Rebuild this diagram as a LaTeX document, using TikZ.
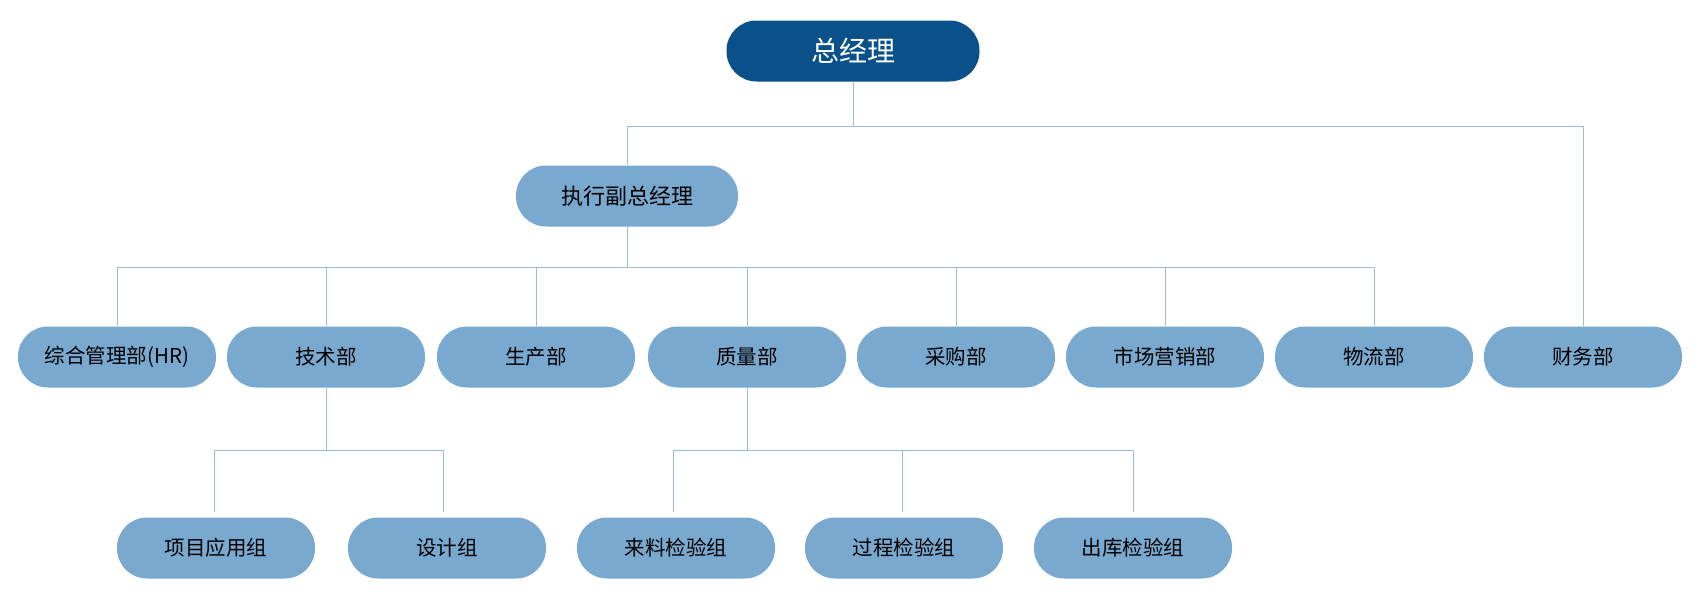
\documentclass[tikz,border=0pt]{standalone}
\usepackage{fontspec}
\setmainfont{Noto Sans CJK SC}
\definecolor{darkblue}{HTML}{0B5189}
\definecolor{lightblue}{HTML}{79A9CF}
\definecolor{linecol}{HTML}{9DBBD6}
\tikzset{
  box/.style={rectangle, rounded corners=30pt, minimum height=61pt, inner sep=0pt,
    fill=lightblue, text=black, font=\fontsize{20.5}{24}\selectfont, minimum width=198pt},
  topbox/.style={box, fill=darkblue, text=white, font=\fontsize{28}{32}\selectfont, minimum width=253pt},
  conn/.style={draw=linecol, line width=1pt},
}
\begin{document}
\begin{tikzpicture}[x=1pt,y=-1pt]
\useasboundingbox (0,0) rectangle (1700,600);
\coordinate (b1) at (0,126);
\coordinate (b2) at (0,267);
\coordinate (b3) at (0,450);
% nodes
\node[topbox] (gm) at (853,51) {总经理};
\node[box, minimum width=222pt, font=\fontsize{22}{26}\selectfont] (vp) at (627,196) {执行副总经理};
\node[box] (hr) at (117,357) {综合管理部(HR)};
\node[box] (tech) at (326,357) {技术部};
\node[box] (prod) at (536,357) {生产部};
\node[box] (qual) at (747,357) {质量部};
\node[box] (purch) at (956,357) {采购部};
\node[box] (mkt) at (1165,357) {市场营销部};
\node[box] (logi) at (1374,357) {物流部};
\node[box] (fin) at (1583,357) {财务部};
\node[box] (proj) at (216,548) {项目应用组};
\node[box] (design) at (447,548) {设计组};
\node[box] (inc) at (676,548) {来料检验组};
\node[box] (proc) at (904,548) {过程检验组};
\node[box] (outb) at (1133,548) {出库检验组};
% connector end points just above the third-row boxes
\coordinate (pj) at ([yshift=5pt,xshift=-2pt]proj.north);
\coordinate (dg) at ([yshift=5pt,xshift=-4pt]design.north);
\coordinate (ic) at ([yshift=5pt,xshift=-3pt]inc.north);
\coordinate (pc) at ([yshift=5pt,xshift=-2pt]proc.north);
\coordinate (ob) at ([yshift=5pt]outb.north);
% connectors
\draw[conn] (gm.south) -- (gm.south |- b1);
\draw[conn] (vp.north) |- (fin.north |- b1) -- (fin.north);
\draw[conn] (vp.south) -- (vp.south |- b2);
\draw[conn] (hr.north) |- (logi.north |- b2) -- (logi.north);
\foreach \n in {tech,prod,qual,purch,mkt}
  \draw[conn] (\n.north) -- (\n.north |- b2);
\draw[conn] (tech.south) -- (tech.south |- b3);
\draw[conn] (pj) |- (dg |- b3) -- (dg);
\draw[conn] (qual.south) -- (qual.south |- b3);
\draw[conn] (ic) |- (ob |- b3) -- (ob);
\draw[conn] (pc) -- (pc |- b3);
\end{tikzpicture}
\end{document}
